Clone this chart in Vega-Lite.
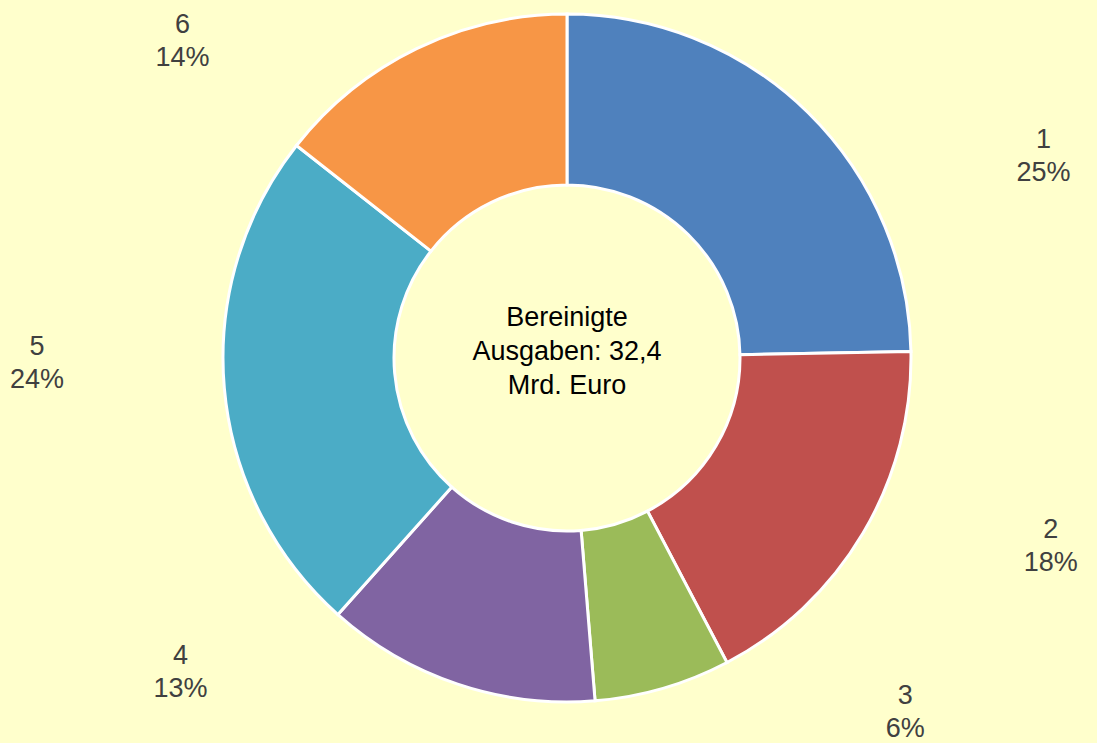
{
  "$schema": "https://vega.github.io/schema/vega-lite/v6.json",
  "width": 1060,
  "height": 716,
  "autosize": "none",
  "padding": {"left": 37, "right": 0, "top": 0, "bottom": 27},
  "background": "#FFFFCC",
  "config": {"view": {"stroke": null}, "text": {"font": "Liberation Sans"}},
  "data": {"values": [
    {"kategorie": "1", "anteil": 24.7},
    {"kategorie": "2", "anteil": 17.6},
    {"kategorie": "3", "anteil": 6.4},
    {"kategorie": "4", "anteil": 12.9},
    {"kategorie": "5", "anteil": 24.0},
    {"kategorie": "6", "anteil": 14.4}
  ]},
  "layer": [
    {
      "mark": {"type": "arc", "radius": 344, "radius2": 173, "stroke": "white", "strokeWidth": 3},
      "encoding": {
        "theta": {"field": "anteil", "type": "quantitative", "stack": true},
        "order": {"field": "kategorie", "type": "ordinal"},
        "color": {
          "field": "kategorie", "type": "nominal", "legend": null,
          "scale": {"domain": ["1", "2", "3", "4", "5", "6"], "range": ["#4F81BD", "#C0504D", "#9BBB59", "#8064A2", "#4BACC6", "#F79646"]}
        }
      }
    },
    {
      "transform": [
        {"window": [{"op": "sum", "field": "anteil", "as": "kum"}], "sort": [{"field": "kategorie"}], "frame": [null, 0]},
        {"joinaggregate": [{"op": "sum", "field": "anteil", "as": "gesamt"}]},
        {"calculate": "(datum.kum - datum.anteil / 2) / datum.gesamt * 2 * PI", "as": "mitte"},
        {"calculate": "datum.mitte < PI ? PI / 2 + 0.58 * (datum.mitte - PI / 2) + 0.061 : 3 * PI / 2 + 0.58 * (datum.mitte - 3 * PI / 2) + 0.040", "as": "labelwinkel"},
        {"calculate": "1 / sqrt(pow(sin(datum.labelwinkel) / 530, 2) + pow(cos(datum.labelwinkel) / 460, 2))", "as": "labelradius"},
        {"calculate": "datum.kategorie + '\\n' + format(datum.anteil / datum.gesamt, '.0%')", "as": "beschriftung"}
      ],
      "mark": {"type": "text", "fontSize": 27, "color": "#404040", "lineBreak": "\n", "lineHeight": 33, "align": "center", "baseline": "middle", "dy": -16.5},
      "encoding": {
        "theta": {"field": "labelwinkel", "type": "quantitative", "stack": null, "scale": {"domain": [0, 6.283185307], "range": [0, 6.283185307]}},
        "radius": {"field": "labelradius", "type": "quantitative", "scale": null},
        "text": {"field": "beschriftung"}
      }
    },
    {
      "data": {"values": [{"t": "Bereinigte\nAusgaben: 32,4\nMrd. Euro"}]},
      "mark": {"type": "text", "fontSize": 27, "color": "black", "lineBreak": "\n", "lineHeight": 34, "align": "center", "baseline": "middle", "dy": -40},
      "encoding": {"text": {"field": "t"}}
    }
  ],
  "resolve": {"scale": {"theta": "independent"}}
}
